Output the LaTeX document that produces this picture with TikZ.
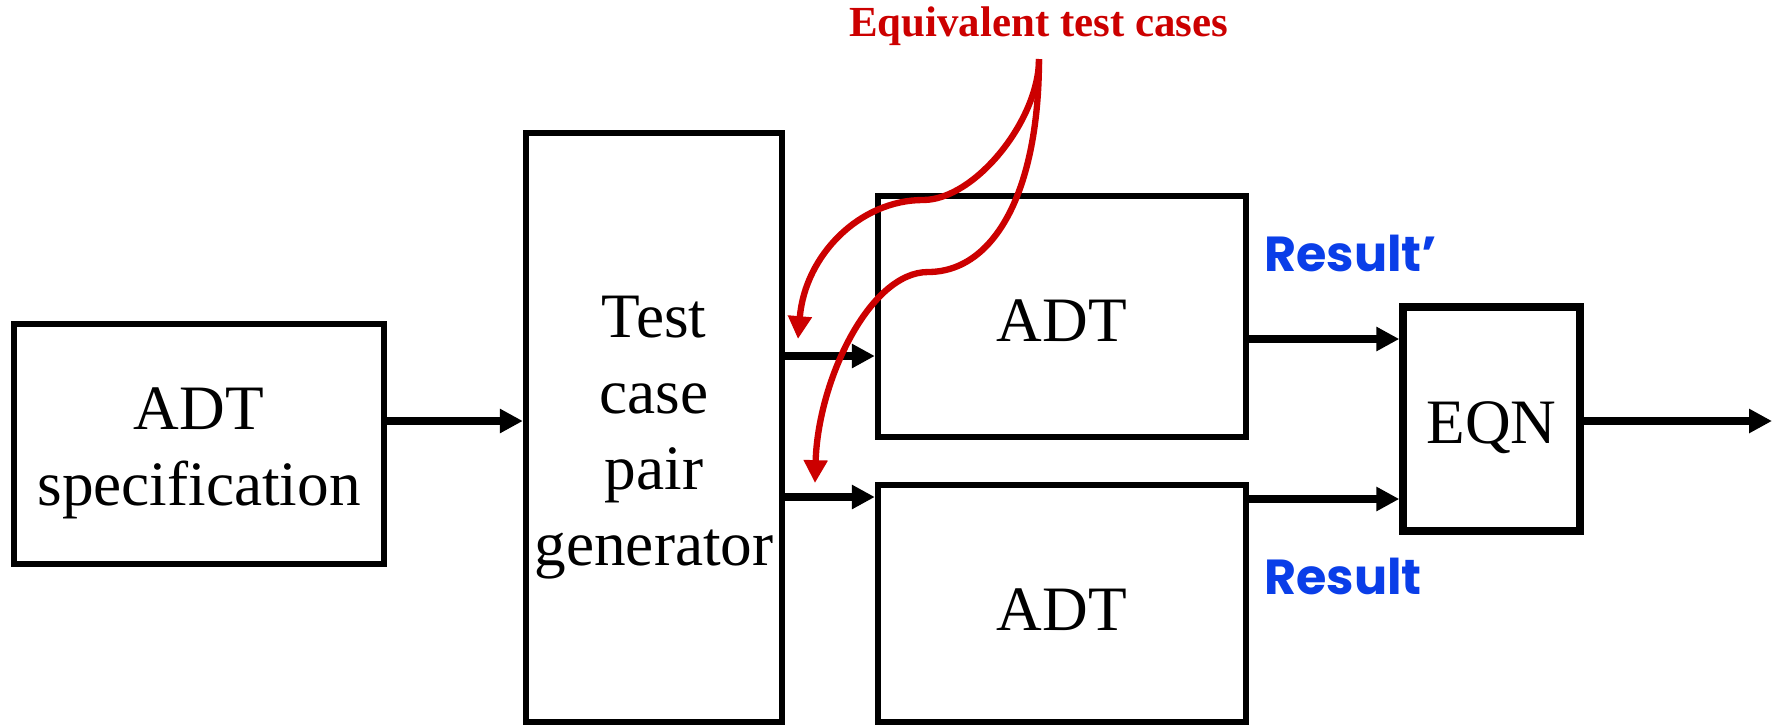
\documentclass[tikz,border=0pt]{standalone}
\usepackage{fontspec}
\setmainfont{Liberation Serif}
\newfontfamily\resultfont{Poppins}
\usetikzlibrary{arrows.meta}
\definecolor{eqred}{RGB}{204,0,0}
\definecolor{resblue}{RGB}{10,62,232}
\tikzset{%
    block/.style={draw, line width=1.8pt, inner sep=0pt},
    every label/.style={align=center, inner sep=0pt,
    	font=\fontsize{18}{21.6}\selectfont},
    arr/.style={-{Triangle[length=6.5pt, width=6.5pt]}, line width=2pt},
    redarr/.style={-{Triangle[length=6.5pt, width=6.5pt]}, line width=1.8pt,
    	draw=eqred},
    reslabel/.style={anchor=west, text=resblue,
    	font=\resultfont\bfseries\fontsize{14}{16}\selectfont}
}
\begin{document}
\begin{tikzpicture}
  \useasboundingbox (0cm, 0cm) rectangle (17.8cm, 7.26cm);

  \node (spec) [block, minimum width=3.7cm, minimum height=2.4cm,
    label={[yshift=-0.09cm]center:ADT\\specification}] at (1.99cm, 2.82cm) {};
  \node (gen) [block, minimum width=2.56cm, minimum height=5.89cm,
    label={[yshift=-0.1cm]center:Test\\case\\pair\\generator}] at (6.54cm, 2.985cm) {};
  \node (adt1) [block, minimum width=3.68cm, minimum height=2.41cm,
    label={[yshift=-0.04cm]center:ADT}] at (10.62cm, 4.095cm) {};
  \node (adt2) [block, minimum width=3.68cm, minimum height=2.37cm,
    label={[yshift=-0.06cm]center:ADT}] at (10.62cm, 1.225cm) {};
  \node (eqn) [block, line width=2.1pt, minimum width=1.77cm, minimum height=2.24cm,
    label={[yshift=-0.09cm]center:EQN}] at (14.915cm, 3.07cm) {};

  \node (res1) [reslabel] at (12.52cm, 4.73cm) {Result’};
  \node (res2) [reslabel] at (12.52cm, 1.50cm) {Result};
  \node (eq) [text=eqred, font=\bfseries\fontsize{12.2}{14}\selectfont] at (10.385cm, 7.0cm) {Equivalent test cases};

  \coordinate (out) at (17.72cm, 3.05cm);
  \coordinate (src) at (10.39cm, 6.67cm);
  \coordinate (tip1) at (7.98cm, 3.87cm);
  \coordinate (tip2) at (8.15cm, 2.43cm);

  \draw [arr] ([yshift=0.23cm]spec.east) -- ([yshift=0.23cm]spec.east -| gen.west);
  \draw [arr] ([yshift=-0.395cm]adt1.west -| gen.east) -- ([yshift=-0.395cm]adt1.west);
  \draw [arr] ([yshift=1.065cm]adt2.west -| gen.east) -- ([yshift=1.065cm]adt2.west);
  \draw [arr] ([yshift=0.8cm]eqn.west -| adt1.east) -- ([yshift=0.8cm]eqn.west);
  \draw [arr] ([yshift=-0.8cm]eqn.west -| adt2.east) -- ([yshift=-0.8cm]eqn.west);
  \draw [arr] (eqn.east |- out) -- (out);

  \draw [redarr] (src) .. controls (10.39cm, 6.06cm) and (9.75cm, 5.26cm) .. (9.23cm, 5.26cm)
     .. controls (8.60cm, 5.26cm) and (8.05cm, 4.71cm) .. (tip1);
  \draw [redarr] (src) .. controls (10.39cm, 5.36cm) and (9.95cm, 4.54cm) .. (9.28cm, 4.54cm)
     .. controls (8.70cm, 4.54cm) and (8.18cm, 3.46cm) .. (tip2);
\end{tikzpicture}
\end{document}
